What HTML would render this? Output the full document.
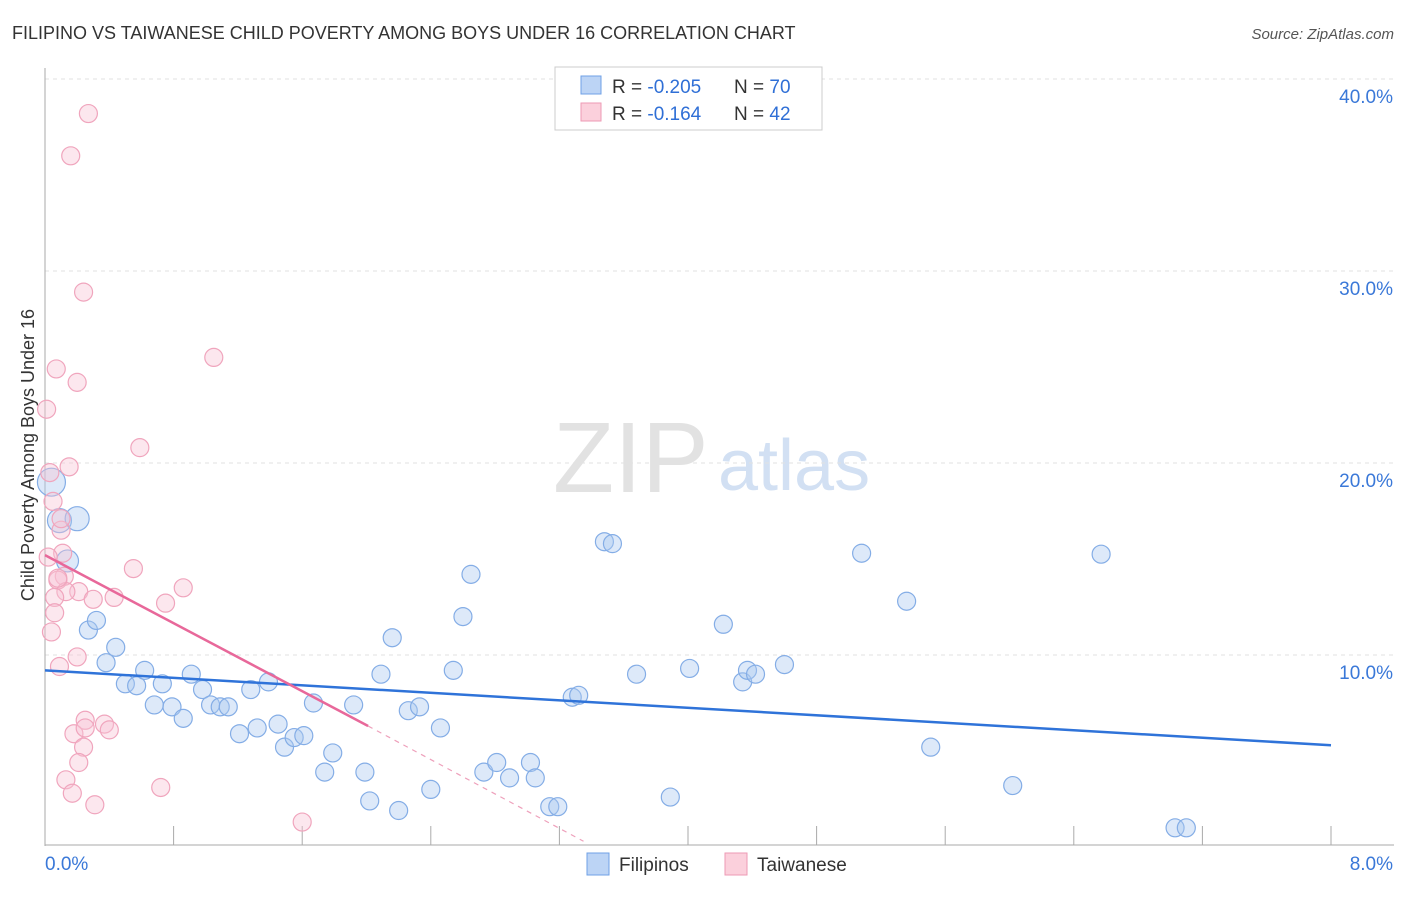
<!DOCTYPE html>
<html><head><meta charset="utf-8"><style>
body{margin:0;background:#fff;font-family:"Liberation Sans",sans-serif}
svg text{font-family:"Liberation Sans",sans-serif}
</style></head><body>
<svg id="chart" width="1406" height="892">
<text x="12" y="39" font-size="18" fill="#333">FILIPINO VS TAIWANESE CHILD POVERTY AMONG BOYS UNDER 16 CORRELATION CHART</text>
<text x="1394" y="39" font-size="15" fill="#555" text-anchor="end" font-style="italic">Source: ZipAtlas.com</text>
<text x="553" y="492" font-size="100" fill="#e2e2e2" font-family="Liberation Serif">ZIP</text>
<text x="718" y="490" font-size="72" fill="#d2e0f3">atlas</text>
<g id="grid"></g><g id="axes"></g><g id="marks"></g>
<text transform="translate(34,455) rotate(-90)" font-size="18" fill="#333" text-anchor="middle">Child Poverty Among Boys Under 16</text>
<g>
<rect x="555" y="67" width="267" height="63" fill="#fff" stroke="#ccc"/>
<rect x="581" y="76" width="20" height="18" fill="#bcd4f5" stroke="#6fa0e6"/>
<rect x="581" y="103" width="20" height="18" fill="#fbd0dc" stroke="#ee9ab4"/>
<text x="612" y="93" font-size="19" fill="#333">R = <tspan fill="#2f6fd6">-0.205</tspan></text>
<text x="734" y="93" font-size="19" fill="#333">N = <tspan fill="#2f6fd6">70</tspan></text>
<text x="612" y="120" font-size="19" fill="#333">R =  <tspan fill="#2f6fd6">-0.164</tspan></text>
<text x="734" y="120" font-size="19" fill="#333">N = <tspan fill="#2f6fd6">42</tspan></text>
</g>
<g>
<rect x="587" y="853" width="22" height="22" fill="#bcd4f5" stroke="#6fa0e6"/>
<text x="619" y="871" font-size="19" fill="#333">Filipinos</text>
<rect x="725" y="853" width="22" height="22" fill="#fbd0dc" stroke="#ee9ab4"/>
<text x="757" y="871" font-size="19" fill="#333">Taiwanese</text>
</g>
</svg>
<script>
const xTicks=[0,0.8,1.6,2.4,3.2,4,4.8,5.6,6.4,7.2,8];
const yTicks=[10,20,30,40];
const blueX=[0.04,0.09,0.20,0.14,0.27,0.32,0.44,0.38,0.50,0.57,0.62,0.68,0.73,0.79,0.86,0.91,0.98,1.03,1.09,1.14,1.21,1.28,1.32,1.39,1.45,1.49,1.55,1.61,1.67,1.74,1.79,1.92,1.99,2.02,2.09,2.16,2.20,2.26,2.33,2.40,2.46,2.54,2.60,2.65,2.73,2.81,2.89,3.02,3.05,3.14,3.19,3.28,3.32,3.48,3.53,3.68,3.89,4.01,4.22,4.34,4.37,4.42,4.60,5.08,5.36,5.51,6.02,6.57,7.03,7.10];
const blueY=[19.0,17.0,17.1,14.9,11.3,11.8,10.4,9.6,8.5,8.4,9.2,7.4,8.5,7.3,6.7,9.0,8.2,7.4,7.3,7.3,5.9,8.2,6.2,8.6,6.4,5.2,5.7,5.8,7.5,3.9,4.9,7.4,3.9,2.4,9.0,10.9,1.9,7.1,7.3,3.0,6.2,9.2,12.0,14.2,3.9,4.4,3.6,4.4,3.6,2.1,2.1,7.8,7.9,15.9,15.8,9.0,2.6,9.3,11.6,8.6,9.2,9.0,9.5,15.3,12.8,5.2,3.2,15.25,1.0,1.0];
const blueR=[14,12,12,11];
const pinkX=[0.27,0.16,0.24,1.05,0.07,0.20,0.01,0.59,0.15,0.05,0.10,0.11,0.02,0.55,0.12,0.08,0.21,0.13,0.06,0.30,0.43,0.86,0.75,0.06,0.04,0.20,0.09,0.25,0.37,0.18,0.40,0.24,0.21,0.13,0.17,0.31,0.72,1.60,0.25,0.03,0.10,0.08];
const pinkY=[38.2,36.0,28.9,25.5,24.9,24.2,22.8,20.8,19.8,18.0,16.5,15.3,15.1,14.5,14.1,13.9,13.3,13.3,13.0,12.9,13.0,13.5,12.7,12.2,11.2,9.9,9.4,6.6,6.4,5.9,6.1,5.2,4.4,3.5,2.8,2.2,3.1,1.3,6.2,19.5,17.1,14.0];
const blueTrend=[[0,9.2],[8,5.3]];
const pinkTrend=[[0,15.2],[2.01,6.3]];
const pinkDash=[[2.01,6.3],[3.35,0.3]];
const X=v=>45+v*160.75, Y=v=>847-v*19.2;
const NS='http://www.w3.org/2000/svg';
function mk(t,a,p){const e=document.createElementNS(NS,t);for(const k in a)e.setAttribute(k,a[k]);p.appendChild(e);return e;}
const grid=document.getElementById('grid'),axes=document.getElementById('axes'),marks=document.getElementById('marks');
yTicks.forEach(t=>{const l=mk('line',{x1:45,x2:1394,y1:Y(t),y2:Y(t),stroke:'#e2e2e2','stroke-dasharray':'4,4'},grid);


const tx=mk('text',{x:1393,y:Y(t)+24,'font-size':19,fill:'#3a78d8','text-anchor':'end'},axes);tx.textContent=t.toFixed(1)+'%';

});
const ax=mk('line',{x1:45,x2:45,y1:68,y2:846,stroke:'#aaa'},axes);


const bx=mk('line',{x1:45,x2:1394,y1:845,y2:845,stroke:'#aaa'},axes);


xTicks.forEach(t=>{const l=mk('line',{x1:X(t),x2:X(t),y1:826,y2:845,stroke:'#aaa'},axes);

});
[[0,'0.0%','start',45],[8,'8.0%','end',1393]].forEach(([v,s,a,x])=>{const tx=mk('text',{x:x,y:870,'font-size':19,fill:'#3a78d8','text-anchor':a},axes);tx.textContent=s;

});
blueX.forEach((v,i)=>{const c=mk('circle',{cx:X(v),cy:Y(blueY[i]),r:blueR[i]||9,fill:'rgba(170,200,240,0.4)',stroke:'#84ade6','stroke-width':1.2},marks);

});
pinkX.forEach((v,i)=>{const c=mk('circle',{cx:X(v),cy:Y(pinkY[i]),r:9,fill:'rgba(248,195,212,0.4)',stroke:'#f0a5bd','stroke-width':1.2},marks);

});
const bl=mk('line',{x1:X(blueTrend[0][0]),y1:Y(blueTrend[0][1]),x2:X(blueTrend[1][0]),y2:Y(blueTrend[1][1]),stroke:'#2f73d9','stroke-width':2.5},marks);


const pl=mk('line',{x1:X(pinkTrend[0][0]),y1:Y(pinkTrend[0][1]),x2:X(pinkTrend[1][0]),y2:Y(pinkTrend[1][1]),stroke:'#e8689a','stroke-width':2.5},marks);


const pd=mk('line',{x1:X(pinkDash[0][0]),y1:Y(pinkDash[0][1]),x2:X(pinkDash[1][0]),y2:Y(pinkDash[1][1]),stroke:'#eea0bb','stroke-width':1.2,'stroke-dasharray':'5,5'},marks);


</script>
</body></html>
